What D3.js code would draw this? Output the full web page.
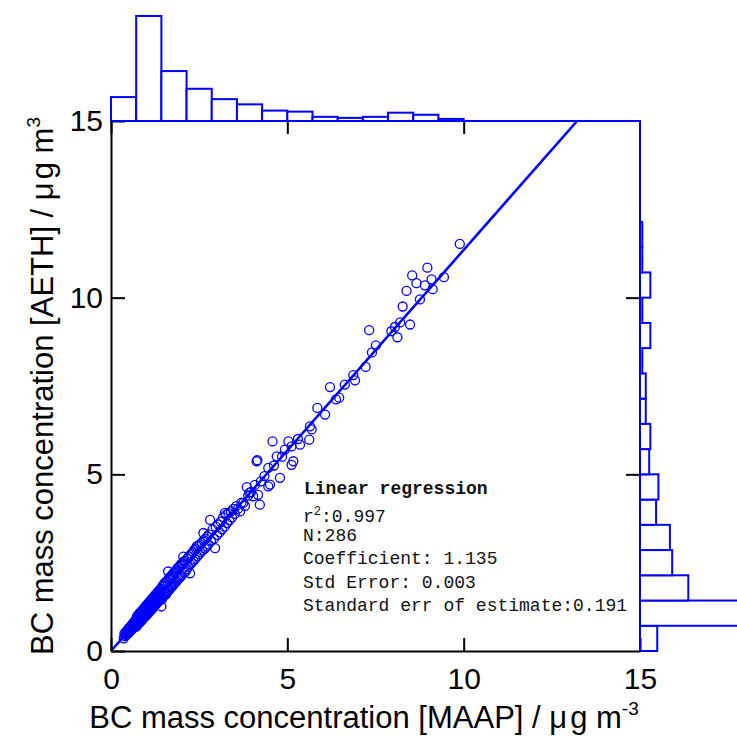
<!DOCTYPE html>
<html><head><meta charset="utf-8">
<script src="https://cdn.jsdelivr.net/npm/d3@7"></script>
<style>body{margin:0;background:#fff}svg{display:block}</style>
</head><body><svg id="c" width="737" height="738"></svg>
<script>
// ---------------- data ----------------
const xTickValues = [0, 5, 10, 15];
const yTickValues = [0, 5, 10, 15];
const binWidth = 10 / 14;                 // histogram bin width (µg m-3)
const maapBinCounts = [23, 101, 48, 31, 21, 16, 10, 9, 4, 3, 4, 8, 6, 2];
const aethBinCounts = [15, 92, 42, 28, 26, 14, 16, 8, 9, 5, 5, 2, 9, 2, 9, 2, 2];
const coefficient = 1.135;
const statsTitle = "Linear regression";
const statsR2 = "0.997";
const statsLines = ["N:286", "Coefficient: 1.135", "Std Error: 0.003", "Standard err of estimate:0.191"];
const scatter = [
[0.36,0.36],[0.38,0.49],[0.40,0.42],[0.41,0.53],[0.43,0.45],[0.45,0.57],[0.46,0.48],[0.48,0.60],[0.49,0.50],[0.50,0.64],
[0.52,0.54],[0.53,0.67],[0.55,0.57],[0.56,0.70],[0.58,0.60],[0.59,0.74],[0.61,0.63],[0.62,0.78],[0.64,0.66],[0.65,0.81],
[0.67,0.69],[0.68,0.85],[0.69,0.72],[0.70,0.87],
[0.72,0.69],[0.73,0.95],[0.74,0.79],[0.75,1.00],[0.76,0.75],[0.77,0.93],[0.78,0.78],[0.79,1.04],[0.80,0.83],[0.80,1.00],
[0.81,0.80],[0.82,1.08],[0.83,0.87],[0.84,1.07],[0.85,0.84],[0.85,1.10],[0.86,0.90],[0.87,1.13],[0.88,0.88],[0.88,1.08],
[0.89,0.93],[0.90,1.17],[0.91,0.92],[0.91,1.15],[0.92,0.96],[0.93,1.20],[0.94,0.95],[0.94,1.16],[0.95,0.99],[0.96,1.24],
[0.97,0.98],[0.97,1.21],[0.98,1.03],[0.99,1.27],[1.00,1.01],[1.00,1.24],[1.01,1.06],[1.02,1.31],[1.03,1.04],[1.03,1.28],
[1.04,1.09],[1.05,1.34],[1.06,1.08],[1.06,1.31],[1.07,1.12],[1.08,1.38],[1.09,1.11],[1.09,1.35],[1.10,1.16],[1.11,1.41],
[1.12,1.15],[1.12,1.38],[1.13,1.19],[1.14,1.45],[1.15,1.18],[1.15,1.42],[1.16,1.23],[1.17,1.48],[1.18,1.21],[1.18,1.45],
[1.19,1.26],[1.20,1.52],[1.21,1.25],[1.21,1.49],[1.22,1.30],[1.23,1.55],[1.24,1.28],[1.24,1.52],[1.25,1.33],[1.26,1.59],
[1.27,1.32],[1.27,1.56],[1.28,1.37],[1.29,1.62],[1.30,1.35],[1.30,1.59],[1.31,1.40],[1.32,1.66],[1.33,1.39],[1.33,1.62],
[1.34,1.44],[1.35,1.69],[1.36,1.42],[1.36,1.66],[1.37,1.47],[1.38,1.73],[1.39,1.46],[1.39,1.69],[1.40,1.51],[1.41,1.76],
[1.42,1.57],[1.10,1.30],[1.25,1.46],[0.95,1.10],[1.05,1.24],[1.30,1.50],[1.15,1.30],[0.85,0.97],[1.35,1.55],
[1.44,1.46],[1.45,1.82],[1.46,1.52],[1.48,1.86],[1.49,1.55],[1.50,1.90],[1.52,1.58],[1.53,1.92],[1.55,1.62],[1.56,1.96],
[1.58,1.66],[1.59,1.98],[1.61,1.70],[1.62,2.25],[1.63,2.03],[1.64,1.72],[1.66,2.08],[1.67,1.76],[1.69,2.10],[1.70,1.80],
[1.72,2.14],[1.73,1.83],[1.75,2.17],[1.76,1.86],[1.78,2.22],[1.79,1.90],[1.81,2.24],[1.82,1.94],[1.84,2.28],[1.85,1.97],
[1.87,2.32],[1.88,2.00],[1.90,2.36],[1.91,2.04],[1.93,2.38],[1.94,2.07],[1.96,2.42],[1.97,2.10],[1.99,2.46],[2.00,2.14],
[2.02,2.48],[2.05,2.67],[2.06,2.53],[2.08,2.22],[2.10,2.56],[2.12,2.26],[1.43,1.26],[1.57,1.62],
[2.15,2.32],[2.17,2.62],[2.19,2.38],[2.21,2.68],[2.24,2.20],[2.25,2.45],[2.27,2.74],[2.29,2.50],[2.32,2.80],[2.34,2.55],
[2.36,2.86],[2.38,2.60],[2.41,2.90],[2.43,2.96],[2.45,2.68],[2.47,2.98],[2.50,2.74],[2.52,3.02],[2.54,2.80],[2.57,3.06],
[2.59,2.84],[2.62,3.34],[2.63,3.14],[2.66,2.90],[2.68,3.18],[2.71,2.96],[2.73,3.24],[2.76,3.02],[2.78,3.30],[2.81,3.71],[2.84,3.12],
[2.88,3.44],[2.92,3.18],[2.95,2.91],[2.97,3.52],[3.01,3.28],[3.04,3.58],[3.08,3.36],[3.11,3.66],[3.15,3.44],[3.18,3.78],
[3.22,3.52],[3.23,3.91],[3.26,3.86],[3.29,3.62],[3.33,3.90],[3.36,3.70],[3.40,3.95],[3.43,3.78],[3.47,4.02],[3.51,3.88],[3.55,4.10],
[3.60,4.02],[3.66,3.95],[3.70,4.20],[3.75,4.19],[3.80,4.11],[3.85,4.64],[3.89,4.40],[3.93,4.48],[3.97,4.50],[4.03,4.38],
[4.08,4.70],[4.13,5.37],[4.15,5.40],[4.17,4.42],[4.22,4.14],[4.25,4.80],
[4.35,4.95],[4.46,4.66],[4.46,5.18],[4.51,4.71],[4.58,5.93],[4.62,5.25],[4.70,5.51],[4.79,4.90],[4.85,5.50],[4.93,5.70],
[5.03,5.93],[5.12,5.79],[5.12,5.27],[5.17,5.37],[5.30,6.00],[5.36,5.84],[5.62,5.98],[5.64,6.36],[5.69,6.27],
[5.85,6.88],[6.07,6.69],[6.21,7.47],[6.38,7.12],
[6.47,7.17],[6.63,7.54],[6.87,7.81],[6.92,7.66],
[7.22,8.04],[7.32,9.08],[7.40,8.45],[7.51,8.65],
[7.95,9.05],[8.05,9.17],[8.12,8.88],[8.20,9.30],[8.27,9.75],[8.38,10.19],[8.48,9.24],[8.54,10.63],
[8.66,10.41],[8.76,9.95],[8.90,10.35],[8.97,10.85],[9.09,10.52],[9.12,10.24],
[9.44,10.58],[9.89,11.52]
];

// ---------------- drawing ----------------
const blue = "#0000ff";
const sansFont = "Arial, 'Liberation Sans', sans-serif";
const svg = d3.select("#c");
const x = d3.scaleLinear().domain([0, 15]).range([111, 640]);
const y = d3.scaleLinear().domain([0, 15]).range([651, 121]);
const topCount = d3.scaleLinear().domain([0, 100]).range([y(15), y(15) - 104]);
const rightCount = d3.scaleLinear().domain([0, 100]).range([x(15), x(15) + 115]);

// scatter
svg.append("g").selectAll("circle").data(scatter).join("circle")
  .attr("cx", d => x(d[0])).attr("cy", d => y(d[1])).attr("r", 4.5)
  .attr("fill", "none").attr("stroke", blue).attr("stroke-width", 1.3);

// regression line
svg.append("line")
  .attr("x1", x(0)).attr("y1", y(0))
  .attr("x2", x(15 / coefficient)).attr("y2", y(15))
  .attr("stroke", blue).attr("stroke-width", 2.6);

// top histogram (MAAP)
svg.append("g").selectAll("rect").data(maapBinCounts).join("rect")
  .attr("x", (d, i) => x(i * binWidth))
  .attr("width", (d, i) => x((i + 1) * binWidth) - x(i * binWidth))
  .attr("y", d => topCount(d))
  .attr("height", d => topCount(0) - topCount(d))
  .attr("fill", "#fff").attr("stroke", blue).attr("stroke-width", 2);

// right histogram (AETH)
svg.append("g").selectAll("rect").data(aethBinCounts).join("rect")
  .attr("y", (d, i) => y((i + 1) * binWidth))
  .attr("height", (d, i) => y(i * binWidth) - y((i + 1) * binWidth))
  .attr("x", rightCount(0))
  .attr("width", d => rightCount(d) - rightCount(0))
  .attr("fill", "#fff").attr("stroke", blue).attr("stroke-width", 2);

function styleAxis(g) {
  g.selectAll("line").attr("stroke", "#000").attr("stroke-width", 2);
  g.selectAll("path.domain").attr("stroke", "#000").attr("stroke-width", 2);
  g.selectAll("text").attr("font-family", sansFont).attr("font-size", 30).attr("fill", "#000");
}

// bottom axis
svg.append("g").attr("transform", `translate(0,${y(0)})`)
  .call(d3.axisBottom(x).tickValues(xTickValues).tickSizeInner(-13).tickSizeOuter(0).tickPadding(17).tickFormat(d3.format("d")))
  .call(styleAxis);
// left axis
svg.append("g").attr("transform", `translate(${x(0)},0)`)
  .call(d3.axisLeft(y).tickValues(yTickValues).tickSizeInner(-14).tickSizeOuter(0).tickPadding(8).tickFormat(d3.format("d")))
  .call(styleAxis);
// top ticks (inward)
svg.append("g").attr("transform", `translate(0,${y(15)})`)
  .call(d3.axisTop(x).tickValues([0, 5, 10]).tickSizeInner(-13).tickSizeOuter(0).tickFormat(""))
  .call(styleAxis).call(g => g.select(".domain").remove());
// right ticks (inward)
svg.append("g").attr("transform", `translate(${x(15)},0)`)
  .call(d3.axisRight(y).tickValues([5, 10]).tickSizeInner(-14).tickSizeOuter(0).tickFormat(""))
  .call(styleAxis).call(g => g.select(".domain").remove());

// blue frame (top & right), histogram baselines
svg.append("line").attr("x1", x(0)).attr("x2", x(15)).attr("y1", y(15)).attr("y2", y(15))
  .attr("stroke", blue).attr("stroke-width", 2);
svg.append("line").attr("x1", x(15)).attr("x2", x(15)).attr("y1", y(15) - 1).attr("y2", y(0) + 1)
  .attr("stroke", blue).attr("stroke-width", 2);

// axis titles
const xt = svg.append("text").attr("x", 364).attr("y", 728)
  .attr("text-anchor", "middle").attr("font-family", sansFont).attr("font-size", 31).attr("fill", "#000");
xt.append("tspan").text("BC mass concentration [MAAP] / ");
xt.append("tspan").text("\u03BC");
xt.append("tspan").attr("dx", 3).text("g m");
xt.append("tspan").attr("font-size", 19).attr("dy", -13).text("-3");

const yt = svg.append("text").attr("transform", `translate(53,386) rotate(-90)`)
  .attr("text-anchor", "middle").attr("font-family", sansFont).attr("font-size", 31).attr("fill", "#000");
yt.append("tspan").text("BC mass concentration [AETH] / ");
yt.append("tspan").text("\u03BC");
yt.append("tspan").attr("dx", 3).text("g m");
yt.append("tspan").attr("font-size", 19).attr("dy", -13).text("3");

// regression statistics
const monoFont = "'Courier New', 'Liberation Mono', monospace";
const st = svg.append("g").attr("font-family", monoFont).attr("font-size", 18).attr("fill", "#111");
st.append("text").attr("x", 304).attr("y", 494).attr("font-weight", "bold").text(statsTitle);
const r2 = st.append("text").attr("x", 303).attr("y", 522);
r2.append("tspan").text("r");
r2.append("tspan").attr("font-size", 12).attr("dy", -7).text("2");
r2.append("tspan").attr("dy", 7).text(":" + statsR2);
const lineYs = [541, 564, 588, 611];
statsLines.forEach((t, i) => st.append("text").attr("x", 303).attr("y", lineYs[i]).text(t));
</script></body></html>
